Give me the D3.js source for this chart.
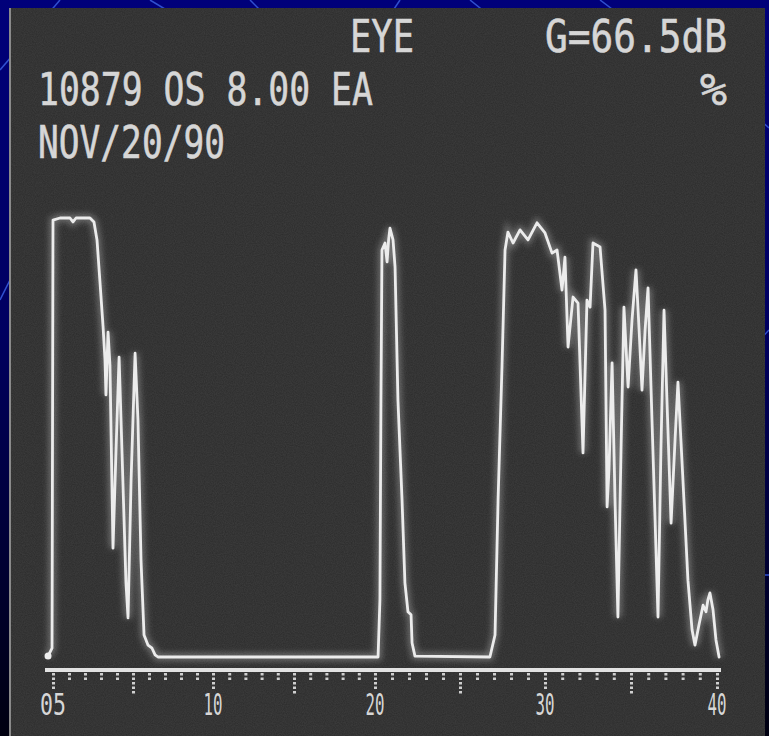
<!DOCTYPE html>
<html><head><meta charset="utf-8">
<script src="https://cdn.jsdelivr.net/npm/d3@7"></script>
<style>html,body{margin:0;padding:0;background:#000050;overflow:hidden} svg{display:block}</style>
</head><body>
<script>
// ---- data ----
const headerTexts = ["EYE", "G=66.5dB", "10879 OS 8.00 EA", "%", "NOV/20/90"];
const tickDepths = d3.range(0, 41);           // mm, one tick per mm
const labelDepths = [0, 10, 20, 30, 40];
const tickLabels = ["05", "10", "20", "30", "40"];
// echo trace: depth (mm) and amplitude (% of screen)
const depth = [-0.31,-0.06,0,0.44,1.06,1.25,1.44,2.31,2.56,2.75,2.94,3.13,3.25,3.31,3.44,3.56,3.75,3.94,4.13,4.31,4.56,4.69,4.88,5.13,5.31,5.5,5.69,5.94,6.19,6.38,6.56,
  20.18,20.29,20.35,20.41,20.59,20.71,20.8,20.88,21.06,21.18,21.35,21.59,21.76,21.94,22.12,22.18,22.35,
  26.76,27.06,27.24,27.47,27.65,27.82,28.12,28.53,29.0,29.53,30.0,30.41,30.7,30.99,31.16,31.34,31.63,31.92,32.21,32.44,32.62,32.79,33.2,33.49,33.61,33.72,33.9,34.07,34.24,34.42,34.59,34.83,35.06,35.29,35.47,35.64,35.82,35.99,36.22,36.4,36.57,36.74,36.92,37.09,37.33,37.56,37.73,38.02,38.31,38.55,38.72,38.95,39.19,39.36,39.47,39.59,39.77,39.94,40.12];
const amplitude = [0.2,2.0,99.5,100,100,99.1,100,100,99.1,95,85.2,75.2,67.7,59.7,74.0,66.5,24.8,47.2,68.3,47,17,8.9,40.3,69.2,54,22.1,5,2.7,2,0.5,0,
  0,13,58.5,92.7,94.3,90,95,97.7,95,88.8,58.5,35.8,16.9,10.3,9.6,3.2,0.2,
  0,5,35.8,66.1,92.7,96.8,94.3,97.3,95,98.9,96.6,92,92.7,83.6,91.1,70.6,82,80.6,46.5,81.3,79.7,94.3,93.4,79,34.2,42.6,67,35.8,9.1,47.2,79.7,61.5,76.8,88.2,74.5,60.8,74.5,84.1,54,31.2,9.1,47.2,79,58.5,30.5,49.4,62.6,40.3,17.5,6.2,2.7,7.3,11.8,10.3,13,14.6,10.7,3.9,0];

const W = 769, H = 736;
const svg = d3.select("body").append("svg").attr("width", W).attr("height", H);
const defs = svg.append("defs");

// background (slide template)
const bg = defs.append("linearGradient").attr("id","bg").attr("x1",0).attr("y1",0).attr("x2",0).attr("y2",1);
bg.append("stop").attr("offset","0").attr("stop-color","#00007a");
bg.append("stop").attr("offset","0.45").attr("stop-color","#000060");
bg.append("stop").attr("offset","1").attr("stop-color","#000010");
svg.append("rect").attr("width",W).attr("height",H).attr("fill","url(#bg)");
const bgLines = [[[0,70],[60,0]],[[150,0],[200,30]],[[250,0],[290,40]],[[400,0],[380,30]],[[470,0],[520,40]],[[600,0],[640,30]],[[0,300],[20,260]],[[760,120],[769,128]],[[755,345],[769,330]],[[760,575],[769,575]]];
svg.append("g").selectAll("path").data(bgLines).join("path")
  .attr("d", d => d3.line()(d)).attr("stroke","#3050d0").attr("stroke-width",1.5).attr("fill","none");

// photo area
const noise = defs.append("filter").attr("id","grain").attr("x",0).attr("y",0).attr("width","100%").attr("height","100%");
noise.append("feTurbulence").attr("type","fractalNoise").attr("baseFrequency",0.9).attr("numOctaves",2).attr("seed",3);
noise.append("feColorMatrix").attr("type","matrix").attr("values","0 0 0 0 1  0 0 0 0 1  0 0 0 0 1  0 0 0 0.09 0");
svg.append("rect").attr("x",10).attr("y",8).attr("width",755).attr("height",728).attr("fill","#2b2b2b");
svg.append("rect").attr("x",10).attr("y",8).attr("width",755).attr("height",728).attr("filter","url(#grain)");
svg.append("rect").attr("x",9).attr("y",8).attr("width",2).attr("height",728).attr("fill","#8a8a8a");

const glow = defs.append("filter").attr("id","glow").attr("x","-20%").attr("y","-20%").attr("width","140%").attr("height","140%");
glow.append("feGaussianBlur").attr("stdDeviation",3);

// header text (dot-matrix style readout)
const txtFont = "DejaVu Sans Mono, monospace";
const headerPos = [[350,52,64],[545,52,182],[38,105,335],[700,105,27],[38,158,187]];
svg.append("g").selectAll("text").data(headerTexts).join("text")
  .attr("x",(d,i)=>headerPos[i][0]).attr("y",(d,i)=>headerPos[i][1])
  .attr("textLength",(d,i)=>headerPos[i][2]).attr("lengthAdjust","spacingAndGlyphs")
  .attr("font-family",txtFont).attr("font-size",45).attr("fill","#d6d6d6")
  .attr("stroke","#d6d6d6").attr("stroke-width",0.6)
  .text(d=>d);

// scales
const x = d3.scaleLinear().domain([0,10,20,30,40]).range([53,213,375,545,717]);
const y = d3.scaleLinear().domain([0,100]).range([657,218]);

// axis
const axis = d3.axisBottom(x).tickValues(tickDepths).tickSize(0).tickFormat("");
const gAxis = svg.append("g").attr("transform","translate(0,670)").call(axis);
gAxis.select(".domain").remove();
gAxis.append("line").attr("x1",45).attr("x2",721).attr("stroke","#e2e2e2").attr("stroke-width",4);
gAxis.selectAll(".tick line")
  .attr("y1",3)
  .attr("y2",d => d % 10 === 0 ? 20 : (d % 5 === 0 ? 24 : 12))
  .attr("stroke","#cfcfcf").attr("stroke-width",3).attr("stroke-dasharray","2.5,2");
gAxis.selectAll(".lbl").data(labelDepths).join("text").attr("class","lbl")
  .attr("x",d=>x(d)).attr("y",45).attr("text-anchor","middle")
  .attr("textLength",(d,i)=> i===0 ? 26 : 19).attr("lengthAdjust","spacingAndGlyphs")
  .attr("font-family",txtFont).attr("font-size",30).attr("fill","#d6d6d6")
  .text((d,i)=>tickLabels[i]);

// trace
const pts = depth.map((d,i)=>[d, amplitude[i]]);
const line = d3.line().x(d=>x(d[0])).y(d=>y(d[1]));
svg.append("path").datum(pts).attr("d",line).attr("fill","none")
  .attr("stroke","#ffffff").attr("stroke-width",7).attr("opacity",0.3).attr("filter","url(#glow)");
svg.append("path").datum(pts).attr("d",line).attr("fill","none")
  .attr("stroke","#ececec").attr("stroke-width",2.8).attr("stroke-linejoin","round").attr("stroke-linecap","round");
svg.append("circle").attr("cx",x(depth[0])).attr("cy",y(amplitude[0])).attr("r",3.5).attr("fill","#eeeeee");
</script>
</body></html>
